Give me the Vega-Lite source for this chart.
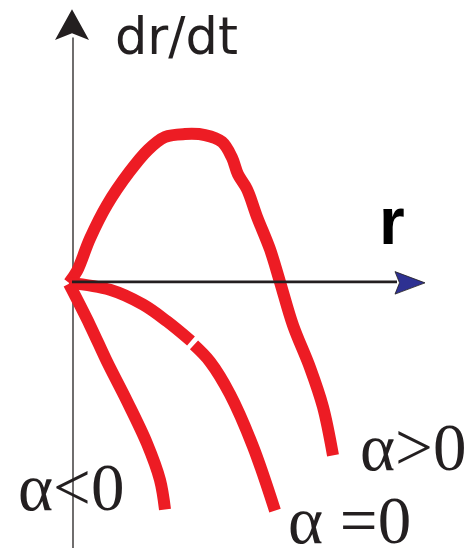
{
  "$schema": "https://vega.github.io/schema/vega-lite/v6.json",
  "width": 470,
  "height": 556,
  "autosize": {"type": "fit", "contains": "padding"},
  "padding": 0,
  "background": "white",
  "config": {"view": {"stroke": null}},
  "datasets": {
    "curves": [
      {"series": "a>0", "i": 0, "r": -0.03, "d": -0.01},
      {"series": "a>0", "i": 1, "r": 0.05, "d": 0.11},
      {"series": "a>0", "i": 2, "r": 0.18, "d": 0.44},
      {"series": "a>0", "i": 3, "r": 0.35, "d": 0.78},
      {"series": "a>0", "i": 4, "r": 0.57, "d": 1.11},
      {"series": "a>0", "i": 5, "r": 0.76, "d": 1.34},
      {"series": "a>0", "i": 6, "r": 0.93, "d": 1.47},
      {"series": "a>0", "i": 7, "r": 1.13, "d": 1.5},
      {"series": "a>0", "i": 8, "r": 1.33, "d": 1.49},
      {"series": "a>0", "i": 9, "r": 1.5, "d": 1.42},
      {"series": "a>0", "i": 10, "r": 1.6, "d": 1.26},
      {"series": "a>0", "i": 11, "r": 1.66, "d": 1.09},
      {"series": "a>0", "i": 12, "r": 1.75, "d": 0.94},
      {"series": "a>0", "i": 13, "r": 1.85, "d": 0.66},
      {"series": "a>0", "i": 14, "r": 1.98, "d": 0.33},
      {"series": "a>0", "i": 15, "r": 2.08, "d": 0.0},
      {"series": "a>0", "i": 16, "r": 2.21, "d": -0.44},
      {"series": "a>0", "i": 17, "r": 2.38, "d": -0.87},
      {"series": "a>0", "i": 18, "r": 2.51, "d": -1.27},
      {"series": "a>0", "i": 19, "r": 2.61, "d": -1.76},
      {"series": "a=0 part1", "i": 0, "r": -0.03, "d": -0.01},
      {"series": "a=0 part1", "i": 1, "r": 0.38, "d": -0.08},
      {"series": "a=0 part1", "i": 2, "r": 0.71, "d": -0.23},
      {"series": "a=0 part1", "i": 3, "r": 0.95, "d": -0.4},
      {"series": "a=0 part1", "i": 4, "r": 1.19, "d": -0.6},
      {"series": "a=0 part2", "i": 0, "r": 1.22, "d": -0.64},
      {"series": "a=0 part2", "i": 1, "r": 1.38, "d": -0.81},
      {"series": "a=0 part2", "i": 2, "r": 1.58, "d": -1.14},
      {"series": "a=0 part2", "i": 3, "r": 1.81, "d": -1.67},
      {"series": "a=0 part2", "i": 4, "r": 2.03, "d": -2.32},
      {"series": "a<0", "i": 0, "r": -0.03, "d": -0.02},
      {"series": "a<0", "i": 1, "r": 0.18, "d": -0.44},
      {"series": "a<0", "i": 2, "r": 0.35, "d": -0.81},
      {"series": "a<0", "i": 3, "r": 0.55, "d": -1.21},
      {"series": "a<0", "i": 4, "r": 0.75, "d": -1.64},
      {"series": "a<0", "i": 5, "r": 0.88, "d": -2.01},
      {"series": "a<0", "i": 6, "r": 0.93, "d": -2.31}
    ],
    "axes": [
      {"axis": "vertical", "r": 0.01, "r2": 0.01, "d": -2.7, "d2": 2.48},
      {"axis": "horizontal", "r": 0.0, "r2": 3.25, "d": 0.0, "d2": 0.0}
    ]
  },
  "layer": [
    {
      "data": {"name": "axes"},
      "transform": [{"filter": "datum.axis === 'vertical'"}],
      "mark": {"type": "rule", "color": "#231F20", "strokeWidth": 1.3},
      "encoding": {
        "x": {"field": "r", "type": "quantitative", "scale": {"domain": [-0.72, 3.98], "nice": false, "zero": false}, "axis": null},
        "x2": {"field": "r2"},
        "y": {"field": "d", "type": "quantitative", "scale": {"domain": [-2.7, 2.86], "nice": false, "zero": false}, "axis": null},
        "y2": {"field": "d2"}
      }
    },
    {
      "data": {"name": "curves"},
      "mark": {"type": "line", "color": "#ED1C24", "strokeWidth": 12, "strokeCap": "butt", "strokeJoin": "round", "interpolate": "catmull-rom"},
      "encoding": {
        "x": {"field": "r", "type": "quantitative"},
        "y": {"field": "d", "type": "quantitative"},
        "detail": {"field": "series"},
        "order": {"field": "i", "type": "quantitative"}
      }
    },
    {
      "data": {"name": "axes"},
      "transform": [{"filter": "datum.axis === 'horizontal'"}],
      "mark": {"type": "rule", "color": "#231F20", "strokeWidth": 2.6},
      "encoding": {
        "x": {"field": "r", "type": "quantitative"},
        "x2": {"field": "r2"},
        "y": {"field": "d", "type": "quantitative"}
      }
    },
    {
      "data": {"values": [{"name": "dr/dt arrow", "r": 0.0, "d": 2.61}]},
      "mark": {"type": "point", "filled": true, "color": "#231F20", "opacity": 1, "size": 1156, "shape": "M0,-0.9L1,0.9L0,0.5L-1,0.9Z"},
      "encoding": {
        "x": {"field": "r", "type": "quantitative"},
        "y": {"field": "d", "type": "quantitative"}
      }
    },
    {
      "data": {"values": [{"name": "r arrow", "r": 3.38, "d": -0.01}]},
      "mark": {"type": "point", "filled": true, "fill": "#2E3192", "stroke": "#231F20", "strokeWidth": 0.8, "opacity": 1, "size": 900, "shape": "M1,0L-1,-0.75L-0.7,0L-1,0.75Z"},
      "encoding": {
        "x": {"field": "r", "type": "quantitative"},
        "y": {"field": "d", "type": "quantitative"}
      }
    },
    {
      "data": {"values": [{"label": "dr/dt", "r": 0.43, "d": 2.31}]},
      "mark": {"type": "text", "align": "left", "baseline": "alphabetic", "font": "DejaVu Sans", "fontSize": 51, "color": "#231F20"},
      "encoding": {
        "x": {"field": "r", "type": "quantitative"},
        "y": {"field": "d", "type": "quantitative"},
        "text": {"field": "label"}
      }
    },
    {
      "data": {"values": [{"label": "r", "r": 3.07, "d": 0.38}]},
      "mark": {"type": "text", "align": "left", "baseline": "alphabetic", "font": "Liberation Sans", "fontSize": 66, "fontWeight": 600, "color": "#000000"},
      "encoding": {
        "x": {"field": "r", "type": "quantitative"},
        "y": {"field": "d", "type": "quantitative"},
        "text": {"field": "label"}
      }
    },
    {
      "data": {"values": [
        {"label": "α>0", "r": 2.88, "d": -1.91},
        {"label": "α<0", "r": -0.54, "d": -2.31},
        {"label": "α =0", "r": 2.16, "d": -2.65}
      ]},
      "mark": {"type": "text", "align": "left", "baseline": "alphabetic", "font": "Liberation Serif", "fontSize": 67, "color": "#231F20"},
      "encoding": {
        "x": {"field": "r", "type": "quantitative"},
        "y": {"field": "d", "type": "quantitative"},
        "text": {"field": "label"}
      }
    }
  ]
}
